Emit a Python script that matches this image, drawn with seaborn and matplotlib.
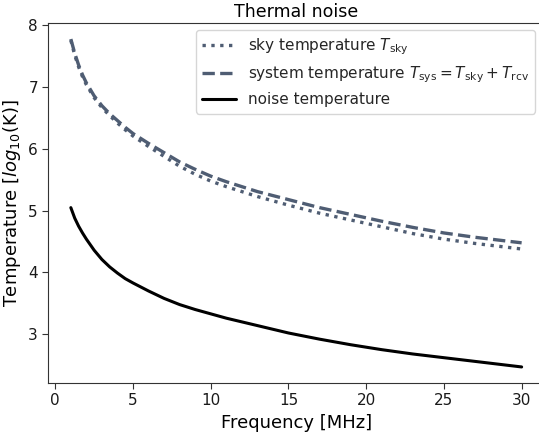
import matplotlib
matplotlib.use("Agg")
import matplotlib.pyplot as plt
import seaborn as sns

# values (log10 of temperature in K)
freq = [1, 1.25, 1.5, 1.75, 2, 2.5, 3, 3.5, 4, 4.5, 5, 6, 7, 8, 9, 10, 11, 12, 13,
        15, 17, 19, 21, 23, 25, 27, 29, 30]
sky = [7.76, 7.52, 7.33, 7.17, 7.04, 6.83, 6.67, 6.54, 6.42, 6.31, 6.21, 6.04, 5.88,
       5.72, 5.59, 5.48, 5.39, 5.31, 5.23, 5.09, 4.96, 4.85, 4.74, 4.63, 4.54, 4.47,
       4.41, 4.38]
system = [7.78, 7.55, 7.36, 7.20, 7.07, 6.86, 6.70, 6.57, 6.46, 6.35, 6.25, 6.09, 5.94,
          5.79, 5.67, 5.56, 5.47, 5.39, 5.31, 5.18, 5.05, 4.94, 4.83, 4.73, 4.64, 4.57,
          4.51, 4.48]
noise = [5.05, 4.88, 4.75, 4.64, 4.54, 4.36, 4.21, 4.09, 3.99, 3.90, 3.83, 3.70, 3.58,
         3.48, 3.40, 3.33, 3.26, 3.20, 3.14, 3.02, 2.92, 2.83, 2.75, 2.68, 2.62, 2.56,
         2.50, 2.47]

sns.set_style("ticks")
plt.rcParams['font.family'] = ['DejaVu Sans']

fig = plt.figure(figsize=(5.39, 4.34), dpi=100)
# axes runs past the right edge of the figure, like the reference
ax = fig.add_axes([0.0896, 0.1175, 0.92, 0.8295])

slate = '#4f5d73'
sns.lineplot(x=freq, y=sky, ax=ax, color=slate, linestyle=':', lw=2.4,
             label=r'sky temperature $T_{\rm sky}$')
sns.lineplot(x=freq, y=system, ax=ax, color=slate, linestyle='--', lw=2.4,
             label=r'system temperature $T_{\rm sys} = T_{\rm sky} + T_{\rm rcv}$')
sns.lineplot(x=freq, y=noise, ax=ax, color='black', lw=2.2, label='noise temperature')

ax.set_xlim(-0.45, 31.45)
ax.set_ylim(2.21, 8.04)
ax.set_xticks([0, 5, 10, 15, 20, 25, 30])
ax.set_yticks([3, 4, 5, 6, 7, 8])
ax.tick_params(labelsize=11, color='#333333', length=4, labelcolor='#1a1a1a')
for s in ax.spines.values():
    s.set_color('#333333')
ax.spines['right'].set_visible(False)

ax.set_title('Thermal noise', fontsize=12.5, pad=4, color='black')
ax.set_xlabel('Frequency [MHz]', fontsize=13, color='black')
ax.set_ylabel(r'Temperature [$log_{10}$(K)]', fontsize=13, color='black')

ax.legend(loc='upper right', bbox_to_anchor=(0.982, 0.981), borderaxespad=0,
          fontsize=11, handlelength=2.2, frameon=True)

fig.savefig('out.png', dpi=100)
